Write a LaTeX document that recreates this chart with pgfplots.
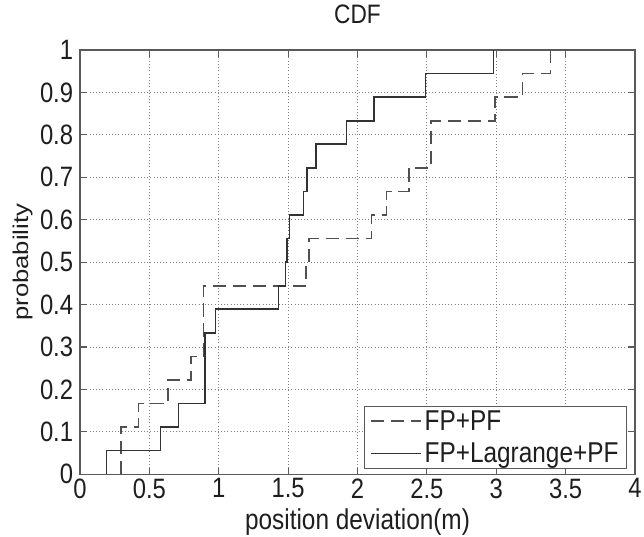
\documentclass[border=0pt]{standalone}
\usepackage{pgfplots}
\pgfplotsset{compat=1.18}
\usepackage{fontspec}
\setmainfont{Liberation Sans}
\newfontfamily\narrowf{Liberation Sans}[FakeStretch=0.85]
\definecolor{solidc}{RGB}{50,50,50}
\definecolor{dashc}{RGB}{80,80,80}
\definecolor{axc}{RGB}{90,90,90}
\definecolor{txtc}{RGB}{30,30,30}
\begin{document}
\begin{tikzpicture}
\useasboundingbox (-60pt,-46.5pt) rectangle (422.75pt,355.5pt);
\begin{axis}[
  at={(0,0)}, anchor=south west,
  scale only axis,
  width=416pt, height=318pt,
  xmin=0, xmax=4, ymin=0, ymax=1,
  xtick={0,0.5,...,4},
  ytick={0,0.1,...,1},
  xticklabels={0,0.5,1,1.5,2,2.5,3,3.5,4},
  yticklabels={0,0.1,0.2,0.3,0.4,0.5,0.6,0.7,0.8,0.9,1},
  tick align=inside,
  major tick length=5pt,
  tick style={axc, line width=0.9pt},
  axis line style={axc, line width=1.1pt},
  grid=major,
  grid style={dotted, black!50, line width=0.7pt},
  ticklabel style={font=\narrowf\fontsize{21}{23}\selectfont, text=txtc},
  xticklabel style={inner sep=2pt, yshift=-1pt},
  yticklabel style={inner sep=2pt, xshift=-3pt},
  title style={text=txtc, at={(axis description cs:0.5,1.066)}, anchor=center},
  title={\narrowf\fontsize{20}{22}\selectfont CDF},
  xlabel={position deviation(m)},
  xlabel style={font=\narrowf\fontsize{21.5}{23}\selectfont, text=txtc,
    at={(axis description cs:0.5,-0.112)}, anchor=center},
  ylabel={\scalebox{1.2}[1]{probability}},
  ylabel style={font=\fontsize{16}{18}\selectfont, text=txtc,
    at={(axis description cs:-0.1034,0.5)}, anchor=center},
  legend style={at={(0.986,0.012)}, anchor=south east, draw=axc, line width=1.1pt,
    font=\narrowf\fontsize{21.5}{23}\selectfont, text=txtc,
    inner xsep=4pt, inner ysep=2.5pt, row sep=7pt,
    nodes={inner xsep=2pt, inner ysep=0.5pt}},
  legend cell align=left,
  legend image code/.code={\draw[#1] (0pt,0pt) -- (38pt,0pt);},
]
\addplot[const plot, dashc, line width=1.2pt, dash pattern=on 10pt off 5pt] coordinates {
 (0.295,0) (0.295,0.1111) (0.42,0.1667) (0.635,0.2222) (0.80,0.2778)
 (0.89,0.4444) (1.63,0.5) (1.65,0.5556) (2.10,0.6111) (2.21,0.6667)
 (2.37,0.7222) (2.53,0.8333) (2.99,0.8889) (3.19,0.9444) (3.39,1.0)
};
\addlegendentry{FP+PF}
\addplot[const plot, solidc, line width=1.2pt] coordinates {
 (0.19,0) (0.19,0.0556) (0.58,0.1111) (0.71,0.1667) (0.90,0.3333)
 (0.976,0.3889) (1.43,0.4444) (1.48,0.5) (1.49,0.5556) (1.51,0.6111)
 (1.61,0.6667) (1.635,0.7222) (1.70,0.7778) (1.92,0.8333) (2.12,0.8889)
 (2.49,0.9444) (2.98,1.0)
};
\addlegendentry{FP+Lagrange+PF}
\end{axis}
\end{tikzpicture}
\end{document}
